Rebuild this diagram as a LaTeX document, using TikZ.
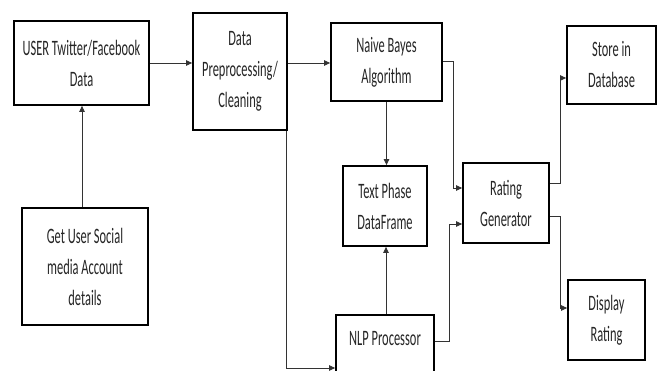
\documentclass[tikz,border=0pt]{standalone}
\usepackage{fontspec}
\setmainfont[FakeStretch=0.565]{Carlito}
\usetikzlibrary{arrows.meta}
\tikzset{
  blk/.style={draw=black, line width=1.8pt, fill=white, inner sep=0pt, align=center,
    font=\fontsize{22}{31}\selectfont, text=black!85},
  conn/.style={draw=black!80, line width=0.8pt, -{Triangle[length=6pt,width=5.5pt]}}
}
\begin{document}
\begin{tikzpicture}[x=1pt,y=-1pt]
\useasboundingbox (0,0) rectangle (659,371);
\clip (0,0) rectangle (659,371);
\node[blk, minimum width=135pt, minimum height=84pt] (user) at (81.5,63) {USER Twitter/Facebook\\Data};
\node[blk, minimum width=94pt, minimum height=117pt] (prep) at (240,71.5) {Data\\Preprocessing/\\Cleaning};
\node[blk, minimum width=111pt, minimum height=78pt] (naive) at (386.5,62) {Naive Bayes\\Algorithm};
\node[blk, minimum width=89pt, minimum height=78pt] (store) at (611.5,65) {Store in\\Database};
\node[blk, minimum width=84pt, minimum height=80pt] (text) at (385,206) {Text Phase\\DataFrame};
\node[blk, minimum width=86pt, minimum height=80pt] (rating) at (506,203) {Rating\\Generator};
\node[blk, minimum width=77pt, minimum height=80pt] (display) at (606.5,320) {Display\\Rating};
\node[blk, minimum width=126pt, minimum height=117pt] (getu) at (85,266.5) {Get User Social\\media Account\\details};
\node[blk, minimum width=98pt, minimum height=64pt, text depth=18pt] (nlp) at (385,347) {NLP Processor};

\draw[conn] (user.east) -- (user.east -| prep.west);
\draw[conn] ([yshift=8.5pt]prep.east) -- ([yshift=8.5pt]prep.east -| naive.west);
\draw[conn] ([xshift=-3pt]getu.north) -- ([xshift=-3pt]getu.north |- user.south);
\draw[conn] (naive.south) -- (naive.south |- text.north);
\draw[conn] ([xshift=1pt]nlp.north) -- ([xshift=1pt]nlp.north |- text.south);
\draw[conn] ([yshift=1pt]naive.east) -- ++(10,0) |- ([yshift=15pt]rating.west);
\draw[conn] ([yshift=6pt]nlp.east) -- ++(14,0) |- ([yshift=-21pt]rating.west);
\draw[conn] ([yshift=20pt]rating.east) -- ++(10,0) |- ([yshift=-13pt]store.west);
\draw[conn] ([yshift=-13pt]rating.east) -- ++(10,0) |- ([yshift=12pt]display.west);
\draw[conn] ([xshift=-2pt]prep.south east) |- ([yshift=-21pt]nlp.west);
\end{tikzpicture}
\end{document}
